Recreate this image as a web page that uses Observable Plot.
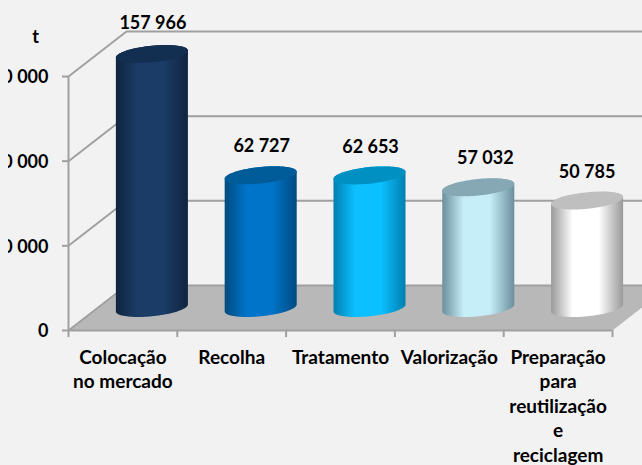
<!DOCTYPE html>
<html lang="pt">
<head>
<meta charset="utf-8">
<style>html,body{margin:0;padding:0;background:#f2f2f2;overflow:hidden}</style>
<script src="https://cdn.jsdelivr.net/npm/d3@7"></script>
<script src="https://cdn.jsdelivr.net/npm/@observablehq/plot@0.6"></script>
</head>
<body>
<div id="chart"></div>
<script>
const categories = ["Colocação\nno mercado", "Recolha", "Tratamento", "Valorização", "Preparação\npara\nreutilização\ne\nreciclagem"];
const values = [157966, 62727, 62653, 57032, 50785];
const yTicks = [0, 40000, 80000, 120000];
const unitLabel = "t";

// Look of the 3D frame and cylinders
const edgeColors = ["#0f2440", "#004a80", "#007fb0", "#6b8f9c", "#999999"];
const midColors  = ["#1b3c66", "#0074c8", "#0cc0ff", "#c6eef9", "#ffffff"];
const capColors  = ["#122e50", "#005c99", "#0090c2", "#85a8b4", "#bfbfbf"];
const labelNudgeX = [1, 1, 1, 7, 0];
const labelNudgeY = [-1, 1, 2, 1, 2];
const axisMax = 120000;
const depthX = 0.533, depthY = 21260;     // wall depth in scale units
const halfWidth = 0.331, capB = 3921, capShear = 1654;
const gridColor = "#a0a0a0", floorColor = "#b8b8b8";

const fmt = d3.formatLocale({thousands: " ", grouping: [3], decimal: ","}).format(",d");
const angles = d3.range(0, 49).map(i => i / 48 * Math.PI);
const cx = i => i + 0.5 + depthX / 2;
const arc = (i, base, from) => angles.map(t => {
  const a = from + t;
  return {x: cx(i) + halfWidth * Math.cos(a), y: base + capShear * Math.cos(a) + capB * Math.sin(a), i};
});
const floorV = depthY * 0.5;
const topV = v => floorV + Math.min(v, axisMax);
const bodies = values.map((v, i) => [...arc(i, floorV, Math.PI), ...arc(i, topV(v), 0)]);
const caps = values.map((v, i) => [...arc(i, topV(v), 0), ...arc(i, topV(v), Math.PI)]);

const floor = [
  {x: 0, y: 0}, {x: 5, y: 0}, {x: 5 + depthX, y: depthY}, {x: depthX, y: depthY}
];
const wallLines = yTicks.flatMap(t => [
  {x: 0, y: t, t}, {x: depthX, y: t + depthY, t}, {x: 5 + depthX, y: t + depthY, t}
]);

const gradients = () => {
  const svgNS = "http://www.w3.org/2000/svg";
  const defs = document.createElementNS(svgNS, "defs");
  values.forEach((_, i) => {
    const g = document.createElementNS(svgNS, "linearGradient");
    g.setAttribute("id", "cyl" + i);
    [[0, edgeColors[i]], [0.3, midColors[i]], [0.66, midColors[i]], [1, edgeColors[i]]].forEach(([o, c]) => {
      const s = document.createElementNS(svgNS, "stop");
      s.setAttribute("offset", o);
      s.setAttribute("stop-color", c);
      g.appendChild(s);
    });
    defs.appendChild(g);
  });
  return defs;
};

const font = {fontFamily: "Lato", fontWeight: 700, fontSize: 18, fill: "#000"};

const plot = Plot.plot({
  width: 642, height: 465,
  marginLeft: 68, marginRight: 30, marginTop: 76, marginBottom: 135,
  x: {type: "linear", domain: [0, 5]},
  y: {type: "linear", domain: [0, axisMax]},
  style: {background: "transparent", fontFamily: "Lato", fontWeight: 700, fontSize: "18px", clipPath: "inset(0 0 0 8px)"},
  marks: [
    gradients,
    Plot.line(floor, {x: "x", y: "y", fill: floorColor, stroke: "none", curve: "linear-closed"}),
    Plot.line(wallLines, {x: "x", y: "y", z: "t", stroke: gridColor, strokeWidth: 2}),
    Plot.ruleX([0], {y1: 0, y2: axisMax, stroke: gridColor, strokeWidth: 2}),
    Plot.ruleY([0], {x1: 0, x2: 5, stroke: gridColor, strokeWidth: 2}),
    Plot.axisY({ticks: yTicks, tickSize: 6, tickFormat: null, text: null, stroke: gridColor, strokeWidth: 2, label: null}),
    Plot.text(yTicks, {x: 0, y: d => d, text: fmt, dx: -20, dy: 1, textAnchor: "end", ...font}),
    Plot.axisX({ticks: [0, 1, 2, 3, 4, 5], tickFormat: () => "", tickSize: 7, stroke: gridColor, strokeWidth: 2, label: null}),
    ...values.map((v, i) => Plot.line(bodies[i], {x: "x", y: "y", fill: `url(#cyl${i})`, stroke: "none", curve: "linear-closed"})),
    ...values.map((v, i) => Plot.line(caps[i], {x: "x", y: "y", fill: capColors[i], stroke: "none", curve: "linear-closed"})),
    ...values.map((v, i) => Plot.text([fmt(v)], {
      x: cx(i), y: topV(v), dx: labelNudgeX[i], dy: -30 + labelNudgeY[i], ...font
    })),
    Plot.text(categories, {
      x: (d, i) => i + 0.5, y: 0, dy: 16, lineAnchor: "top", lineHeight: 1.29, textAnchor: "middle", ...font, fontSize: 19
    }),
    Plot.text([unitLabel], {x: 0, y: axisMax, dx: -33, dy: -39, ...font})
  ]
});
document.getElementById("chart").appendChild(plot);
</script>
</body>
</html>
